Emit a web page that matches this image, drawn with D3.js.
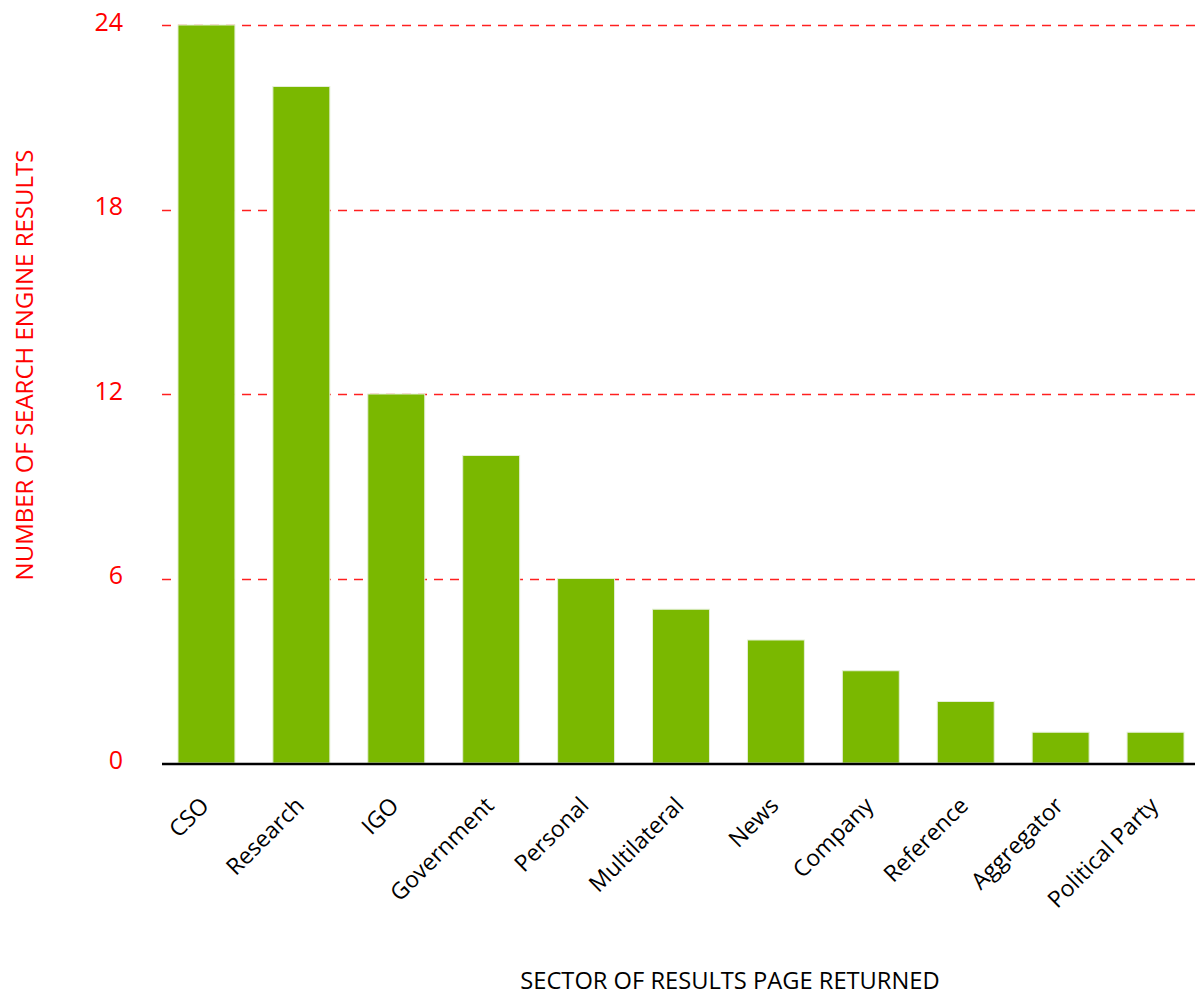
<!DOCTYPE html>
<html>
<head>
<meta charset="utf-8">
<script src="https://cdn.jsdelivr.net/npm/d3@7"></script>
<style>
  html, body { margin: 0; padding: 0; background: #fff; }
  svg { display: block; font-family: "Open Sans", "Noto Sans", sans-serif; }
</style>
</head>
<body>
<svg id="chart" width="1195" height="997"></svg>
<script>
// Search engine results by sector of the returned page
const categories = ["CSO", "Research", "IGO", "Government", "Personal", "Multilateral",
                    "News", "Company", "Reference", "Aggregator", "Political Party"];
const counts = [24, 22, 12, 10, 6, 5, 4, 3, 2, 1, 1];
const yTicks = [0, 6, 12, 18, 24];

const width = 1195, height = 997;
const plotLeft = 162, plotTop = 25, plotBottom = 763;

const svg = d3.select("#chart");

const x = d3.scaleBand()
  .domain(categories)
  .range([159, 1203])
  .paddingInner(0.4)
  .paddingOuter(0.2);

const y = d3.scaleLinear()
  .domain([0, 24])
  .range([plotBottom, plotTop]);

// dashed gridlines
svg.append("g")
  .selectAll("line")
  .data(yTicks.filter(d => d > 0))
  .join("line")
  .attr("x1", plotLeft)
  .attr("x2", width)
  .attr("y1", d => Math.round(y(d)) + 0.5)
  .attr("y2", d => Math.round(y(d)) + 0.5)
  .attr("stroke", "#ff2020")
  .attr("stroke-width", 1.3)
  .attr("stroke-dasharray", "9,7");

// bars
svg.append("g")
  .selectAll("rect")
  .data(categories.map((c, i) => ({ c, v: counts[i] })))
  .join("rect")
  .attr("x", d => x(d.c))
  .attr("y", d => y(d.v))
  .attr("width", x.bandwidth())
  .attr("height", d => y(0) - y(d.v))
  .attr("fill", "#7ab800")
  .attr("stroke", "#e4efd6")
  .attr("stroke-width", 1);

// baseline
svg.append("line")
  .attr("x1", plotLeft)
  .attr("x2", width)
  .attr("y1", plotBottom + 1)
  .attr("y2", plotBottom + 1)
  .attr("stroke", "#000")
  .attr("stroke-width", 2.5);

// y tick labels
const yAxis = d3.axisLeft(y).tickValues(yTicks).tickSize(0).tickPadding(0);
const yg = svg.append("g")
  .attr("transform", `translate(123,0)`)
  .call(yAxis);
yg.select(".domain").remove();
yg.selectAll("text")
  .attr("fill", "#ff0000")
  .attr("font-size", 25)
  .attr("font-family", "'Open Sans', sans-serif")
  .attr("dy", "0.2em");

// x tick labels, rotated
const xAxis = d3.axisBottom(x).tickSize(0).tickPadding(0);
const xg = svg.append("g")
  .attr("transform", `translate(0,${plotBottom})`)
  .call(xAxis);
xg.select(".domain").remove();
xg.selectAll("text")
  .attr("fill", "#000")
  .attr("font-size", 23)
  .attr("font-family", "'Open Sans', sans-serif")
  .attr("text-anchor", "end")
  .attr("dy", 0)
  .attr("transform", "translate(4,44) rotate(-45)");

// axis titles
svg.append("text")
  .attr("x", 730)
  .attr("y", 989)
  .attr("text-anchor", "middle")
  .attr("font-size", 23.7)
  .attr("fill", "#000")
  .text("SECTOR OF RESULTS PAGE RETURNED");

svg.append("text")
  .attr("transform", "translate(33,365) rotate(-90)")
  .attr("text-anchor", "middle")
  .attr("font-size", 24)
  .attr("fill", "#ff0000")
  .text("NUMBER OF SEARCH ENGINE RESULTS");
</script>
</body>
</html>
